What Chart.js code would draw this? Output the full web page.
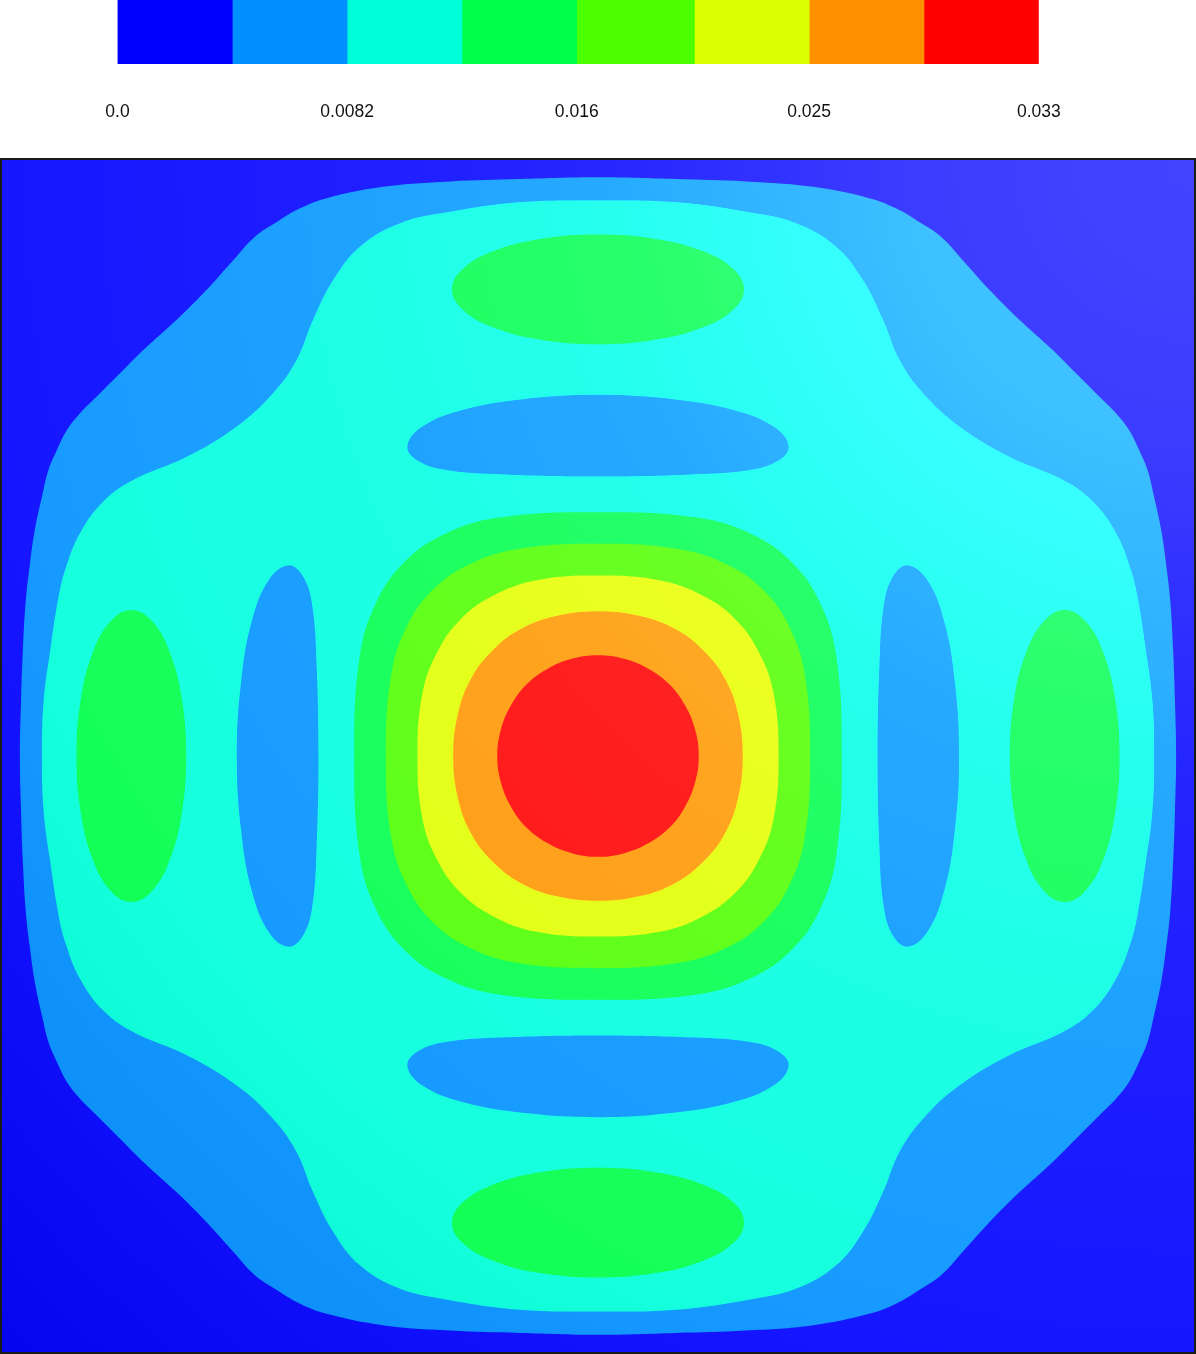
<!DOCTYPE html>
<html><head><meta charset="utf-8">
<script src="https://cdn.jsdelivr.net/npm/chart.js@4.4.1/dist/chart.umd.min.js"></script>
<style>
html,body{margin:0;padding:0;background:#fff;width:1196px;height:1354px;overflow:hidden}
#cb{position:absolute;left:0;top:0;width:1196px;height:128px}
#main{position:absolute;left:0;top:158px;width:1196px;height:1196px}
</style></head><body>
<div id="cb"><canvas id="cbc"></canvas></div>
<div id="main"><canvas id="mc"></canvas></div>
<script>
// ---- colour levels (colorbar) ----
const levelColors = ['#0000ff','#0090ff','#00ffd9','#00ff4a','#4cff00','#d9ff00','#ff9100','#ff0000'];
const levelBounds = [0, 0.0041, 0.0082, 0.0123, 0.0164, 0.0206, 0.0247, 0.0288, 0.0329];
const tickValues = [0, 0.0082, 0.0164, 0.0247, 0.0329];
const tickLabels = ['0.0', '0.0082', '0.016', '0.025', '0.033'];

// ---- contour boundaries (domain -1..1) ----
const domainCorners = [[-1,1],[1,1],[1,-1],[-1,-1]];
// top-left quadrant, from top centre to left centre
const outerQuarter = [[0,0.971],[-0.131,0.968],[-0.248,0.964],[-0.361,0.955],[-0.455,0.936],[-0.500,0.919],
  [-0.539,0.896],[-0.576,0.871],[-0.612,0.832],[-0.657,0.782],[-0.707,0.732],[-0.763,0.681],[-0.802,0.642],
  [-0.841,0.603],[-0.869,0.575],[-0.891,0.547],[-0.908,0.513],[-0.922,0.480],[-0.933,0.435],[-0.945,0.379],
  [-0.953,0.323],[-0.960,0.262],[-0.965,0.178],[-0.968,0.094],[-0.970,0]];
const cyanQuarter = [[0,0.932],[-0.131,0.929],[-0.248,0.913],[-0.332,0.894],[-0.399,0.855],[-0.444,0.799],
  [-0.478,0.732],[-0.506,0.664],[-0.545,0.609],[-0.606,0.553],[-0.690,0.502],[-0.780,0.463],[-0.830,0.427],
  [-0.869,0.374],[-0.894,0.312],[-0.906,0.262],[-0.919,0.178],[-0.930,0.094],[-0.933,0]];
const greenRingQuarter = [[0,0.409],[-0.166,0.400],[-0.258,0.372],[-0.325,0.325],[-0.372,0.258],[-0.400,0.166],[-0.409,0]];
const limeRingQuarter = [[0,0.356],[-0.136,0.347],[-0.217,0.321],[-0.278,0.278],[-0.321,0.217],[-0.347,0.136],[-0.356,0]];
const yellowRingQuarter = [[0,0.303],[-0.103,0.295],[-0.174,0.270],[-0.230,0.230],[-0.270,0.174],[-0.295,0.103],[-0.303,0]];
const orangeRingQuarter = [[0,0.243],[-0.071,0.235],[-0.130,0.213],[-0.177,0.177],[-0.213,0.130],[-0.235,0.071],[-0.243,0]];
const redRingQuarter = [[0,0.169],[-0.044,0.163],[-0.085,0.146],[-0.120,0.120],[-0.146,0.085],[-0.163,0.044],[-0.169,0]];
// right half of the top islands (top centre -> bottom centre)
const topGreenHalf = [[0,0.875],[0.094,0.868],[0.173,0.848],[0.226,0.818],[0.245,0.783],[0.226,0.748],[0.173,0.718],[0.094,0.698],[0,0.691]];
const topBlueHalf = [[0,0.606],[0.123,0.599],[0.226,0.581],[0.296,0.552],[0.320,0.519],[0.300,0.494],[0.250,0.479],[0.150,0.472],[0,0.469]];
// upper half of the left islands (outer end -> inner end)
const leftGreenHalf = [[-0.875,0],[-0.868,0.094],[-0.848,0.173],[-0.818,0.226],[-0.783,0.245],[-0.748,0.226],[-0.718,0.173],[-0.698,0.094],[-0.691,0]];
const leftBlueHalf = [[-0.606,0],[-0.599,0.123],[-0.581,0.226],[-0.552,0.296],[-0.519,0.320],[-0.494,0.300],[-0.479,0.250],[-0.472,0.150],[-0.469,0]];

// ---- build closed outlines from the symmetric pieces ----
function quadLoop(q){
  const bl = q.slice().reverse().map(([x,y])=>[x,-y]).slice(1);
  const br = q.map(([x,y])=>[-x,-y]).slice(1);
  const tr = q.slice().reverse().map(([x,y])=>[-x,y]).slice(1,-1);
  return q.concat(bl, br, tr);
}
function halfX(h){ return h.concat(h.slice().reverse().map(([x,y])=>[-x,y]).slice(1,-1)); }
function halfY(h){ return h.concat(h.slice().reverse().map(([x,y])=>[x,-y]).slice(1,-1)); }
const negY = p => p.map(([x,y])=>[x,-y]);
const negX = p => p.map(([x,y])=>[-x,y]);
function closeSmooth(p){ return p.concat(p.slice(0,3)); }

function region(pts, color, order, tension){
  return {data: pts.map(([x,y])=>({x,y})), showLine:true, fill:'shape', backgroundColor:color,
    borderWidth:0, pointRadius:0, pointHoverRadius:0, tension: tension, order: order};
}
const C = levelColors;
const datasets = [
  region(domainCorners, C[0], 30, 0),
  region(closeSmooth(quadLoop(outerQuarter)), C[1], 29, 0.4),
  region(closeSmooth(quadLoop(cyanQuarter)), C[2], 28, 0.4),
  region(closeSmooth(halfX(topGreenHalf)), C[3], 27, 0.4),
  region(closeSmooth(negY(halfX(topGreenHalf))), C[3], 27, 0.4),
  region(closeSmooth(halfY(leftGreenHalf)), C[3], 27, 0.4),
  region(closeSmooth(negX(halfY(leftGreenHalf))), C[3], 27, 0.4),
  region(closeSmooth(halfX(topBlueHalf)), C[1], 27, 0.4),
  region(closeSmooth(negY(halfX(topBlueHalf))), C[1], 27, 0.4),
  region(closeSmooth(halfY(leftBlueHalf)), C[1], 27, 0.4),
  region(closeSmooth(negX(halfY(leftBlueHalf))), C[1], 27, 0.4),
  region(closeSmooth(quadLoop(greenRingQuarter)), C[3], 26, 0.4),
  region(closeSmooth(quadLoop(limeRingQuarter)), C[4], 25, 0.4),
  region(closeSmooth(quadLoop(yellowRingQuarter)), C[5], 24, 0.4),
  region(closeSmooth(quadLoop(orangeRingQuarter)), C[6], 23, 0.4),
  region(closeSmooth(quadLoop(redRingQuarter)), C[7], 22, 0.4)
];

// lighting of the surface: slight dimming + additive highlight from the top-right corner
const shadePlugin = {
  id:'shade',
  afterDatasetsDraw(chart){
    const {ctx, chartArea:a} = chart;
    ctx.save();
    ctx.beginPath(); ctx.rect(a.left, a.top, a.width, a.height); ctx.clip();
    ctx.fillStyle = 'rgba(0,0,0,0.08)';
    ctx.fillRect(a.left, a.top, a.width, a.height);
    const R = Math.hypot(a.width, a.height);
    const g = ctx.createRadialGradient(a.right, a.top, 0, a.right, a.top, R);
    g.addColorStop(0, 'rgb(68,68,68)');
    g.addColorStop(0.17, 'rgb(60,60,60)');
    g.addColorStop(0.35, 'rgb(38,38,38)');
    g.addColorStop(0.5, 'rgb(30,30,30)');
    g.addColorStop(0.7, 'rgb(23,23,23)');
    g.addColorStop(1, 'rgb(5,5,5)');
    ctx.globalCompositeOperation = 'lighter';
    ctx.fillStyle = g; ctx.fillRect(a.left, a.top, a.width, a.height);
    ctx.restore();
  }
};
const framePlugin = {
  id:'frame',
  afterDraw(chart){
    const {ctx, chartArea:a} = chart;
    ctx.save();
    ctx.strokeStyle = '#1a1a1a'; ctx.lineWidth = 2;
    ctx.strokeRect(a.left-1, a.top-1, a.width+2, a.height+2);
    ctx.restore();
  }
};

new Chart(document.getElementById('mc'), {
  type:'scatter',
  data:{datasets},
  options:{
    responsive:true, maintainAspectRatio:false, animation:false, events:[], devicePixelRatio:1,
    layout:{padding:2},
    plugins:{legend:{display:false}, tooltip:{enabled:false}},
    scales:{
      x:{type:'linear', min:-1, max:1, display:false},
      y:{type:'linear', min:-1, max:1, display:false}
    }
  },
  plugins:[shadePlugin, framePlugin]
});

new Chart(document.getElementById('cbc'), {
  type:'bar',
  data:{
    labels:[''],
    datasets: levelColors.map((c,i)=>({data:[[levelBounds[i], levelBounds[i+1]]], backgroundColor:c,
      borderWidth:0, barPercentage:1, categoryPercentage:1, grouped:false}))
  },
  options:{
    indexAxis:'y', responsive:true, maintainAspectRatio:false, animation:false, events:[], devicePixelRatio:1,
    layout:{padding:{left:117.5, right:157.2, top:0, bottom:0}},
    plugins:{legend:{display:false}, tooltip:{enabled:false}},
    scales:{
      x:{type:'linear', position:'bottom', min:levelBounds[0], max:levelBounds[levelBounds.length-1],
        grid:{display:false, drawTicks:false}, border:{display:false},
        afterBuildTicks: s => { s.ticks = tickValues.map(v=>({value:v})); },
        ticks:{padding:37.5, color:'#111', autoSkip:false, maxRotation:0,
          font:{family:'"Liberation Sans", Arial, Helvetica, sans-serif', size:17.5},
          callback:(v,i)=>tickLabels[i]}},
      y:{display:false}
    }
  }
});
</script>
</body></html>
